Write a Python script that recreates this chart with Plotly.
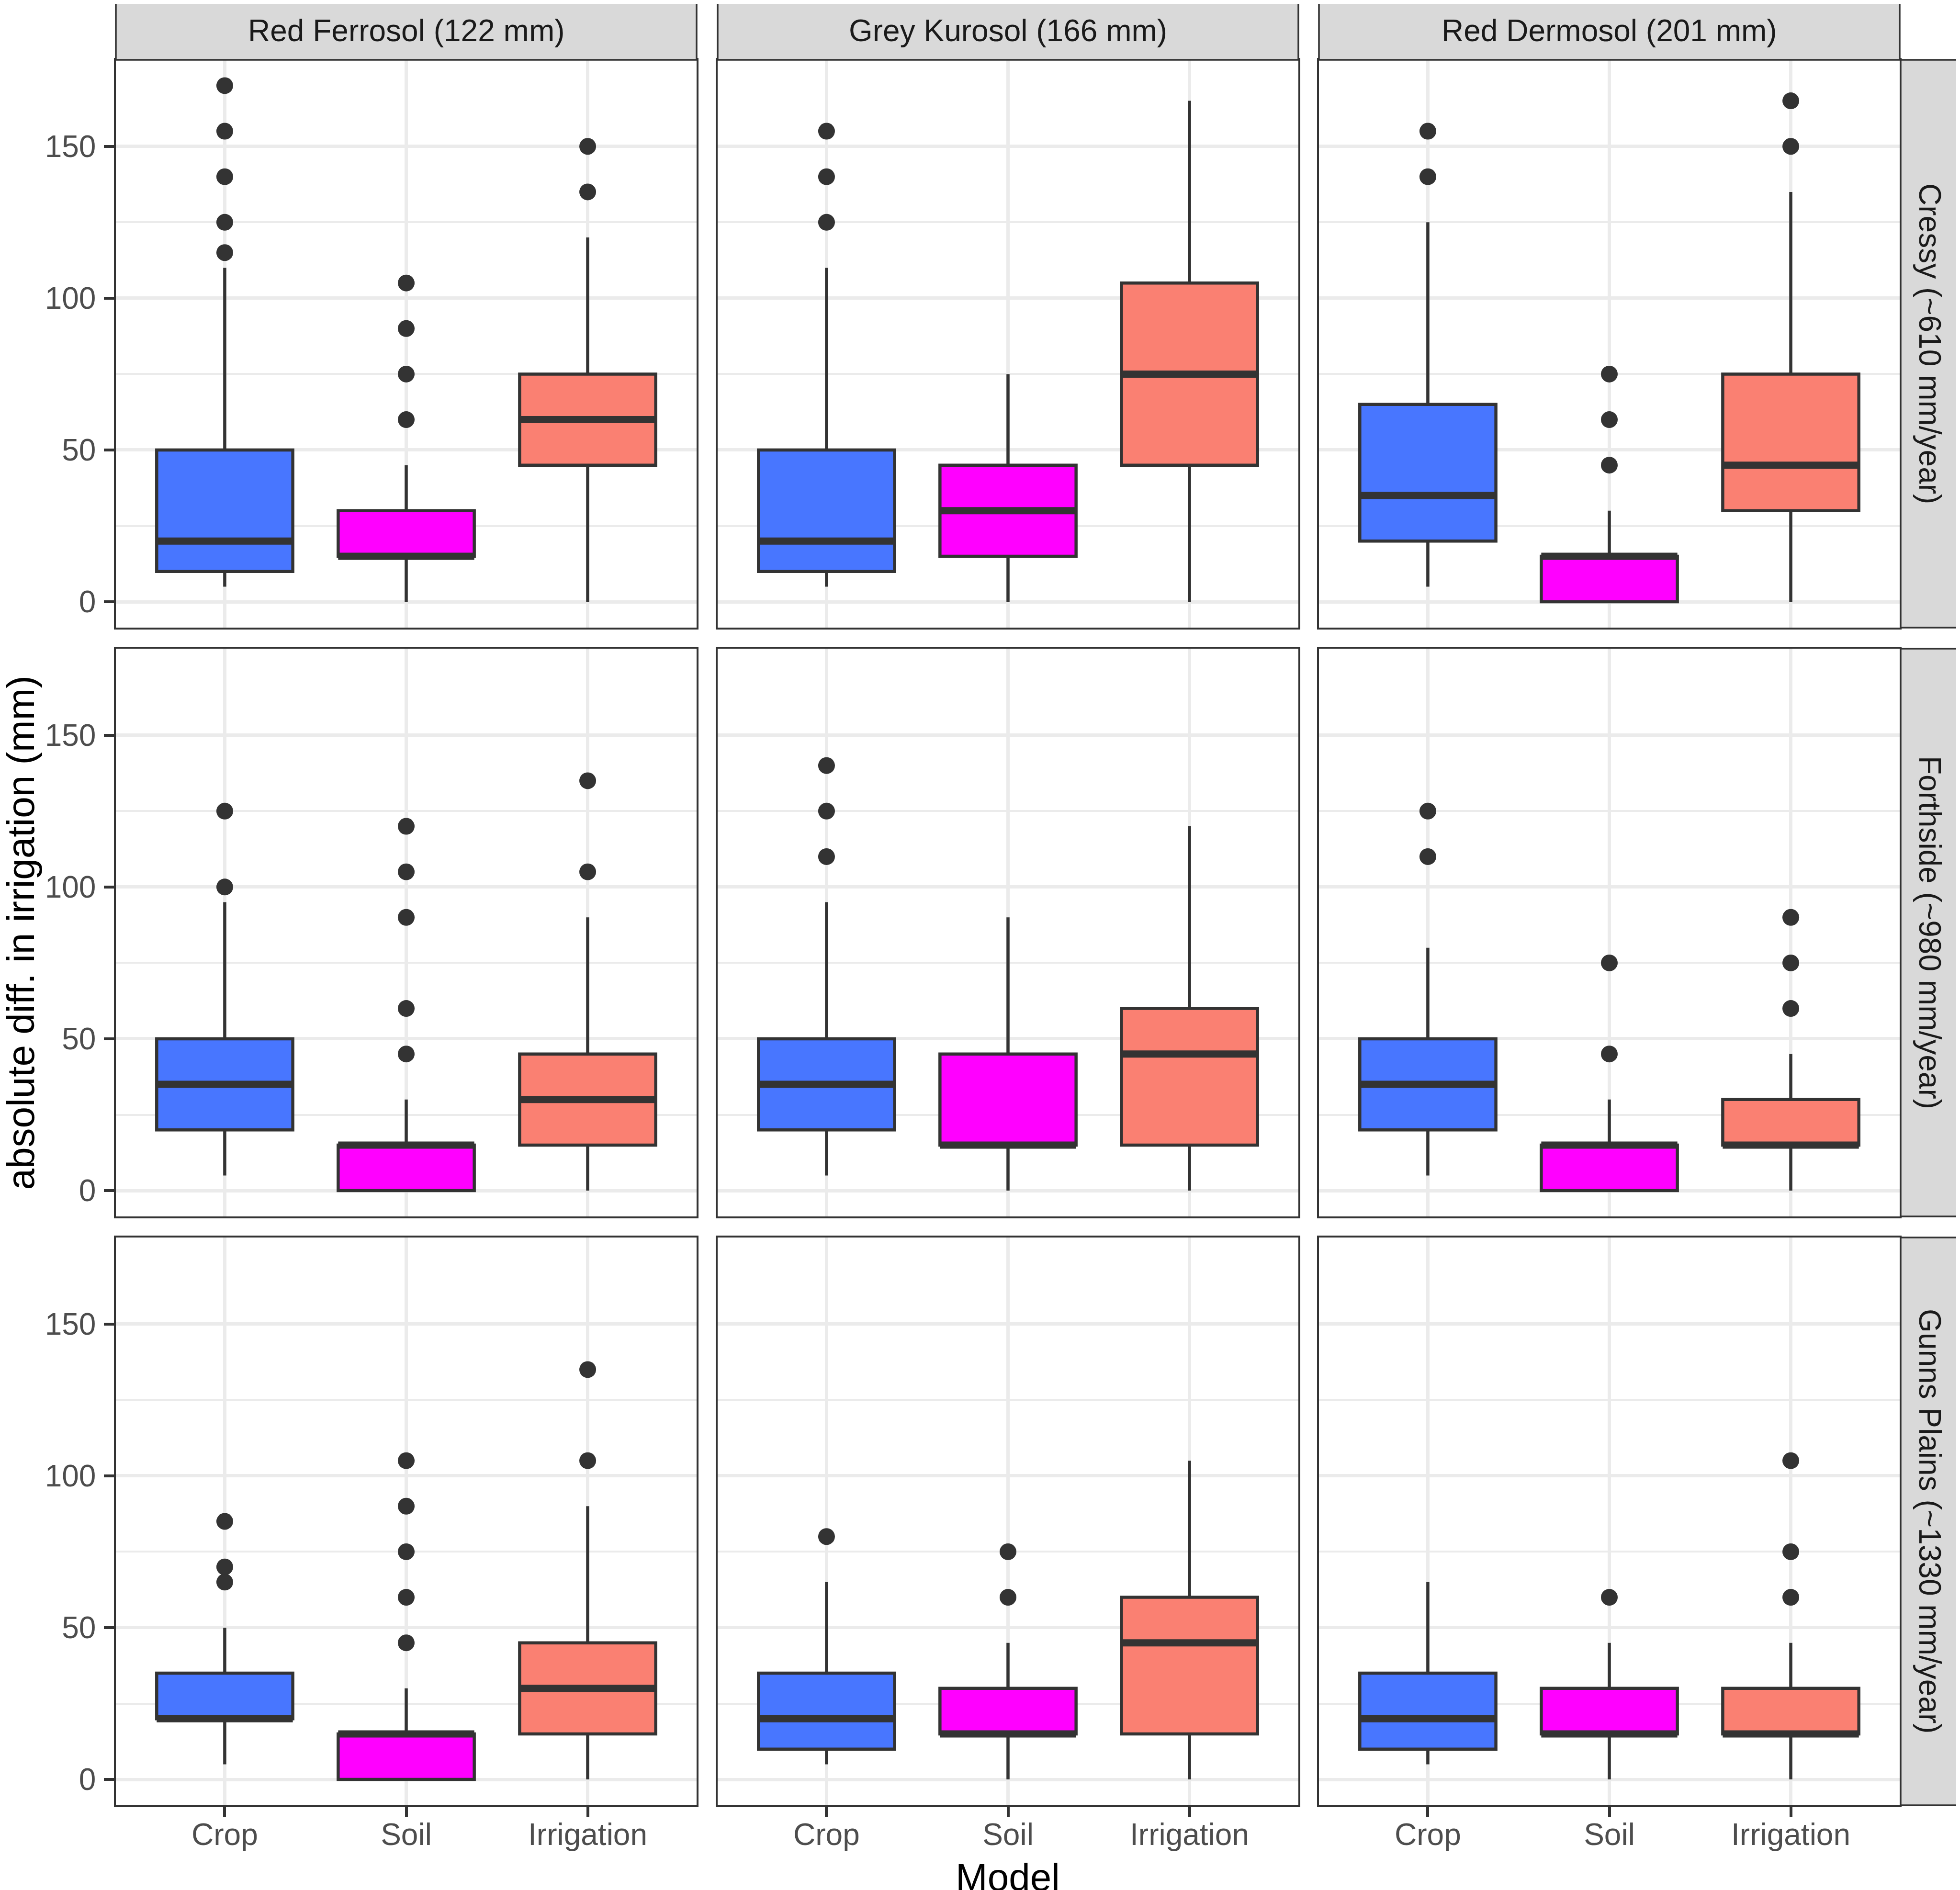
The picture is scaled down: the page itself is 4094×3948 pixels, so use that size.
import plotly.graph_objects as go

# facet labels
soils = ["Red Ferrosol (122 mm)", "Grey Kurosol (166 mm)", "Red Dermosol (201 mm)"]
sites = ["Cressy (~610 mm/year)", "Forthside (~980 mm/year)", "Gunns Plains (~1330 mm/year)"]
models = ["Crop", "Soil", "Irrigation"]
fills = ["#4876FF", "#FF00FF", "#FA8072"]

# box statistics, indexed [site][soil][model]
lower = [
    [[5, 0, 0], [5, 0, 0], [5, 0, 0]],
    [[5, 0, 0], [5, 0, 0], [5, 0, 0]],
    [[5, 0, 0], [5, 0, 0], [5, 0, 0]],
]
q1 = [
    [[10, 15, 45], [10, 15, 45], [20, 0, 30]],
    [[20, 0, 15], [20, 15, 15], [20, 0, 15]],
    [[20, 0, 15], [10, 15, 15], [10, 15, 15]],
]
median = [
    [[20, 15, 60], [20, 30, 75], [35, 15, 45]],
    [[35, 15, 30], [35, 15, 45], [35, 15, 15]],
    [[20, 15, 30], [20, 15, 45], [20, 15, 15]],
]
q3 = [
    [[50, 30, 75], [50, 45, 105], [65, 15, 75]],
    [[50, 15, 45], [50, 45, 60], [50, 15, 30]],
    [[35, 15, 45], [35, 30, 60], [35, 30, 30]],
]
upper = [
    [[110, 45, 120], [110, 75, 165], [125, 30, 135]],
    [[95, 30, 90], [95, 90, 120], [80, 30, 45]],
    [[50, 30, 90], [65, 45, 105], [65, 45, 45]],
]
outliers = [
    [[[115, 125, 140, 155, 170], [60, 75, 90, 105], [135, 150]],
     [[125, 140, 155], [], []],
     [[140, 155], [45, 60, 75], [150, 165]]],
    [[[100, 125], [45, 60, 90, 105, 120], [105, 135]],
     [[110, 125, 140], [], []],
     [[110, 125], [45, 75], [60, 75, 90]]],
    [[[65, 70, 85], [45, 60, 75, 90, 105], [105, 135]],
     [[80], [60, 75], []],
     [[], [60], [60, 75, 105]]],
]

W, H = 4094, 3948
OFF = 8  # the page body adds an 8px margin, pull the panels back by that much
col_x = [(242 - OFF, 1455 - OFF), (1499 - OFF, 2712 - OFF), (2755 - OFF, 3968 - OFF)]
row_y = [(125 - OFF, 1311 - OFF), (1355 - OFF, 2541 - OFF), (2585 - OFF, 3771 - OFF)]
strip = 122
FONT = "Liberation Sans, Arial, sans-serif"
DARK = "#333333"
BOXW = 0.75

fig = go.Figure()
layout = {}

for r in range(3):
    for c in range(3):
        i = r * 3 + c + 1
        xa = "x" if i == 1 else f"x{i}"
        ya = "y" if i == 1 else f"y{i}"
        pos = [k + 1 for k in range(len(models))]

        for k, m in enumerate(models):
            fig.add_trace(go.Box(
                x=[pos[k]], q1=[q1[r][c][k]], median=[median[r][c][k]], q3=[q3[r][c][k]],
                lowerfence=[lower[r][c][k]], upperfence=[upper[r][c][k]],
                orientation="v", width=BOXW, whiskerwidth=0, boxpoints=False,
                fillcolor=fills[k], line=dict(color=DARK, width=6.5),
                xaxis=xa, yaxis=ya, name=m, hoverinfo="skip",
            ))
            # ggplot draws the median twice as thick
            fig.add_trace(go.Scatter(
                x=[pos[k] - BOXW / 2, pos[k] + BOXW / 2],
                y=[median[r][c][k], median[r][c][k]],
                mode="lines", line=dict(color=DARK, width=15),
                xaxis=xa, yaxis=ya, hoverinfo="skip",
            ))

        ox, oy = [], []
        for k in range(len(models)):
            ox += [pos[k]] * len(outliers[r][c][k])
            oy += outliers[r][c][k]
        fig.add_trace(go.Scatter(
            x=ox, y=oy, mode="markers",
            marker=dict(color=DARK, size=35, line=dict(width=0)),
            xaxis=xa, yaxis=ya, hoverinfo="skip",
        ))

        x0, x1 = col_x[c]
        y0, y1 = row_y[r]
        bottom = r == 2
        left = c == 0
        layout["xaxis" if i == 1 else f"xaxis{i}"] = dict(
            domain=[x0 / W, x1 / W], anchor=ya, range=[0.4, 3.6],
            tickvals=pos, ticktext=models, showticklabels=bottom,
            ticks="outside" if bottom else "", ticklen=21, tickwidth=6, tickcolor=DARK,
            ticklabelstandoff=-19,
            tickfont=dict(size=64, color="#4D4D4D", family=FONT),
            showgrid=True, gridcolor="#EBEBEB", gridwidth=7, zeroline=False,
            showline=True, mirror=True, linecolor=DARK, linewidth=3.5,
        )
        layout["yaxis" if i == 1 else f"yaxis{i}"] = dict(
            domain=[1 - y1 / H, 1 - y0 / H], anchor=xa, range=[-8.5, 178.5],
            tickvals=[0, 50, 100, 150], showticklabels=left,
            ticks="outside" if left else "", ticklen=21, tickwidth=6, tickcolor=DARK,
            ticklabelstandoff=4,
            tickfont=dict(size=64, color="#4D4D4D", family=FONT),
            showgrid=True, gridcolor="#EBEBEB", gridwidth=7, zeroline=False,
            minor=dict(tickvals=[25, 75, 125], showgrid=True, gridcolor="#EBEBEB",
                       gridwidth=3.5, ticks=""),
            showline=True, mirror=True, linecolor=DARK, linewidth=3.5,
        )

shapes = []
annotations = []
for c, s in enumerate(soils):
    x0, x1 = col_x[c]
    shapes.append(dict(type="rect", xref="paper", yref="paper",
                       x0=x0 / W, x1=x1 / W, y0=1 - row_y[0][0] / H, y1=1 - (row_y[0][0] - strip) / H,
                       fillcolor="#D9D9D9", line=dict(color=DARK, width=3.5)))
    annotations.append(dict(text=s, xref="paper", yref="paper", showarrow=False,
                            x=(x0 + x1) / 2 / W, y=1 - (row_y[0][0] - strip / 2) / H,
                            xanchor="center", yanchor="middle",
                            font=dict(size=64, color="#1A1A1A", family=FONT)))
for r, s in enumerate(sites):
    y0, y1 = row_y[r]
    sx0 = col_x[2][1] + 2
    shapes.append(dict(type="rect", xref="paper", yref="paper",
                       x0=sx0 / W, x1=(sx0 + strip) / W, y0=1 - y1 / H, y1=1 - y0 / H,
                       fillcolor="#D9D9D9", line=dict(color=DARK, width=3.5)))
    annotations.append(dict(text=s, xref="paper", yref="paper", showarrow=False, textangle=90,
                            x=(sx0 + strip / 2) / W, y=1 - (y0 + y1) / 2 / H,
                            xanchor="center", yanchor="middle",
                            font=dict(size=64, color="#1A1A1A", family=FONT)))

# axis titles
annotations.append(dict(text="Model", xref="paper", yref="paper", showarrow=False,
                        x=(col_x[0][0] + col_x[2][1]) / 2 / W, y=0,
                        xanchor="center", yanchor="bottom", yshift=-12,
                        font=dict(size=80, color="black", family=FONT)))
annotations.append(dict(text="absolute diff. in irrigation (mm)", xref="paper", yref="paper",
                        showarrow=False, textangle=-90,
                        x=0, xanchor="left", xshift=-12,
                        y=1 - (row_y[0][0] + row_y[2][1]) / 2 / H, yanchor="middle",
                        font=dict(size=80, color="black", family=FONT)))

fig.update_layout(
    width=W, height=H, margin=dict(l=0, r=0, t=0, b=0),
    paper_bgcolor="white", plot_bgcolor="white", showlegend=False,
    boxmode="overlay", shapes=shapes, annotations=annotations,
    font=dict(family=FONT), **layout,
)

fig.write_html("out.html")
